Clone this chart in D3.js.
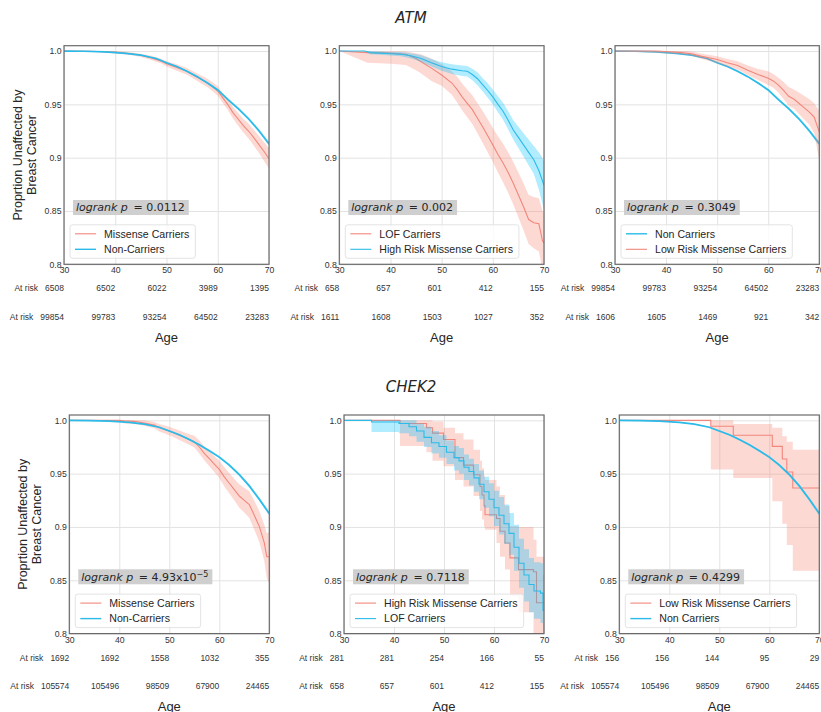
<!DOCTYPE html>
<html>
<head>
<meta charset="utf-8">
<script src="https://cdn.jsdelivr.net/npm/d3@7/dist/d3.min.js"></script>
<style>
  body { margin: 0; background: #fff; }
  svg { display: block; font-family: "Liberation Sans", Arial, sans-serif; }
</style>
</head>
<body>
<script>
// ---- data: each row is [age, survival, lower CI, upper CI] ----
const atmNonCarriers = [
  [30,1,1,1],[34,0.9998,0.9997,0.9999],[38,0.9992,0.999,0.9994],[42,0.9978,0.9975,0.9981],
  [45,0.9962,0.9958,0.9966],[48,0.993,0.9925,0.9935],[50,0.989,0.9884,0.9896],[52,0.9855,0.9848,0.9862],
  [54,0.981,0.9802,0.9818],[56,0.976,0.9751,0.9769],[58,0.970,0.969,0.971],[60,0.9635,0.9624,0.9646],
  [62,0.9545,0.9533,0.9557],[64,0.946,0.9447,0.9473],[66,0.9365,0.935,0.938],[68,0.9255,0.9238,0.9272],
  [70,0.913,0.911,0.915]
];
const atmMissense = [
  [30,1,1,1],[35,0.9998,0.9995,1],[40,0.999,0.998,1],[43,0.9975,0.9962,0.9988],[45,0.996,0.9945,0.9975],
  [47,0.9935,0.9915,0.9955],[49,0.9905,0.9882,0.9928],[50,0.988,0.9855,0.9905],[52,0.9845,0.9815,0.9875],
  [54,0.981,0.9778,0.9842],[56,0.9755,0.972,0.979],[58,0.970,0.966,0.974],[59,0.9665,0.9623,0.9707],
  [60,0.9625,0.958,0.967],[61,0.956,0.9513,0.9607],[62,0.9495,0.9445,0.9545],[63,0.942,0.9365,0.9475],
  [64,0.936,0.930,0.942],[65,0.930,0.9237,0.9363],[66,0.925,0.918,0.932],[67,0.919,0.9115,0.9265],
  [68,0.9125,0.9045,0.9205],[69,0.906,0.897,0.915],[70,0.899,0.8895,0.9085]
];
const atmLof = [
  [30,1,1,1],[35.5,0.9985,0.989,0.9998],[40,0.998,0.988,0.9998],[43,0.997,0.987,0.9995],
  [45,0.993,0.982,0.998],[46,0.990,0.979,0.997],[48,0.984,0.972,0.993],[50,0.9775,0.9675,0.9875],
  [52,0.970,0.959,0.981],[53,0.964,0.952,0.976],[54,0.957,0.9445,0.9695],[55,0.951,0.938,0.964],
  [56,0.945,0.9315,0.9585],[57,0.937,0.923,0.951],[58,0.929,0.914,0.944],[59,0.9205,0.905,0.936],
  [60,0.912,0.896,0.928],[61,0.903,0.886,0.920],[62,0.895,0.877,0.913],[63,0.886,0.867,0.905],
  [64,0.876,0.856,0.896],[65,0.865,0.844,0.886],[66,0.854,0.832,0.876],[67,0.842,0.819,0.865],
  [68,0.839,0.815,0.863],[69,0.838,0.812,0.862],[69.7,0.822,0.795,0.85],[70,0.82,0.79,0.848]
];
const atmHighRisk = [
  [30,1,1,1],[35,1,1,1],[36,0.9985,0.997,1],[38,0.998,0.9965,0.9995],[40,0.9975,0.9958,0.9992],
  [42,0.997,0.995,0.999],[44,0.9955,0.993,0.998],[46,0.993,0.990,0.996],[48,0.989,0.9855,0.9925],
  [50,0.9855,0.9815,0.9895],[52,0.983,0.9785,0.9875],[54,0.9815,0.9765,0.9865],[55,0.981,0.976,0.986],
  [56,0.978,0.9725,0.9835],[57,0.974,0.968,0.980],[58,0.9685,0.9622,0.9748],[59,0.963,0.9563,0.9697],
  [60,0.957,0.950,0.964],[61,0.950,0.9425,0.9575],[62,0.9435,0.9355,0.9515],[63,0.935,0.9265,0.9435],
  [64,0.926,0.917,0.935],[65,0.919,0.909,0.929],[66,0.912,0.901,0.923],[67,0.905,0.893,0.917],
  [68,0.898,0.885,0.911],[69,0.888,0.870,0.905],[70,0.874,0.851,0.897]
];
const atmLowRisk = [
  [30,1,1,1],[38,1,0.9985,1],[40,0.9995,0.998,1],[43,0.9985,0.997,1],[45,0.9975,0.9955,0.9995],
  [47,0.995,0.9925,0.9975],[50,0.992,0.9888,0.9952],[52,0.989,0.9855,0.9925],[54,0.9865,0.9825,0.9905],
  [56,0.982,0.9775,0.9865],[58,0.978,0.9728,0.9832],[60,0.9745,0.968,0.981],[61,0.972,0.9655,0.9785],
  [62,0.968,0.961,0.975],[63,0.963,0.955,0.971],[64,0.9575,0.9487,0.9663],[65,0.955,0.946,0.964],
  [66,0.951,0.941,0.961],[67,0.947,0.936,0.958],[68,0.943,0.931,0.955],[69,0.938,0.923,0.951],
  [70,0.924,0.897,0.944]
];
const chekNonCarriers = [
  [30,1,1,1],[34,0.9998,0.9997,0.9999],[38,0.9993,0.9991,0.9995],[42,0.998,0.9977,0.9983],
  [45,0.9965,0.9961,0.9969],[48,0.9935,0.993,0.994],[50,0.990,0.9894,0.9906],[52,0.9865,0.9858,0.9872],
  [54,0.982,0.9812,0.9828],[56,0.977,0.9761,0.9779],[58,0.9715,0.9705,0.9725],[60,0.9655,0.9644,0.9666],
  [62,0.958,0.9568,0.9592],[64,0.949,0.9477,0.9503],[66,0.9385,0.937,0.94],[68,0.926,0.9243,0.9277],
  [70,0.9125,0.9105,0.9145]
];
const chekMissense = [
  [30,1,1,1],[40,1,1,1],[41,0.9995,0.997,1],[43,0.999,0.9965,1],[45,0.9975,0.995,1],
  [47,0.9955,0.9925,0.9985],[48,0.993,0.9895,0.9965],[50,0.990,0.986,0.994],[52,0.986,0.9815,0.9905],
  [54,0.982,0.977,0.987],[55,0.980,0.9745,0.9855],[56,0.975,0.969,0.981],[57,0.969,0.9625,0.9755],
  [58,0.964,0.957,0.971],[59,0.959,0.9515,0.9665],[60,0.954,0.946,0.962],[61,0.947,0.938,0.956],
  [62,0.941,0.9315,0.9505],[63,0.935,0.925,0.945],[64,0.929,0.918,0.940],[65,0.925,0.9135,0.9365],
  [66,0.921,0.9085,0.9335],[67,0.911,0.8975,0.9245],[68,0.9005,0.886,0.915],[69,0.885,0.868,0.902],
  [69.5,0.872,0.852,0.894],[70,0.872,0.847,0.895]
];
const chekHighRisk = [
  [30,1,1,1],[41.2,0.997,0.976,1],[46.5,0.993,0.970,1],[47.7,0.988,0.962,0.999],[49.9,0.982,0.957,0.993],
  [52.2,0.965,0.944,0.988],[53.9,0.958,0.938,0.982],[55.9,0.949,0.929,0.9725],[57.2,0.938,0.915,0.962],
  [57.6,0.930,0.907,0.955],[58,0.920,0.900,0.948],[58.2,0.9115,0.8975,0.944],[60.5,0.908,0.885,0.938],
  [61.2,0.896,0.872,0.930],[62.2,0.885,0.860,0.920],[63.2,0.871,0.835,0.9006],[64.9,0.860,0.820,0.900],
  [67.9,0.858,0.800,0.888],[68.5,0.829,0.780,0.872],[70,0.829,0.780,0.872]
];
const chekLof = [
  [30,1,1,1],[35.5,0.9985,0.989,1],[41,0.997,0.988,1],[43,0.994,0.985,1],[44.5,0.990,0.980,0.997],
  [46,0.984,0.975,0.994],[47.5,0.979,0.969,0.990],[49,0.9755,0.965,0.986],[50.5,0.970,0.959,0.981],
  [52,0.965,0.953,0.976],[53,0.962,0.950,0.974],[54,0.956,0.944,0.968],[55,0.952,0.939,0.964],
  [56,0.946,0.933,0.959],[57,0.940,0.926,0.953],[58,0.933,0.918,0.947],[59,0.926,0.910,0.941],
  [60,0.918,0.901,0.934],[61,0.911,0.893,0.928],[62,0.903,0.884,0.921],[63,0.894,0.874,0.913],
  [64,0.881,0.859,0.902],[65,0.866,0.843,0.889],[66,0.855,0.830,0.879],[67,0.846,0.820,0.871],
  [68,0.840,0.814,0.867],[69.3,0.838,0.810,0.866],[69.8,0.822,0.792,0.855],[70,0.822,0.792,0.855]
];
const chekLowRisk = [
  [30,1,1,1],[48.3,0.9944,0.954,1],[52.8,0.986,0.946,0.9966],[60.6,0.9756,0.924,0.993],
  [62.6,0.9638,0.903,0.985],[63.5,0.9516,0.883,0.980],[64.7,0.9366,0.859,0.9725],[70,0.9366,0.859,0.9725]
];

// numbers at risk at ages 30, 40, 50, 60, 70
const atmMissenseRisk = [6508, 6502, 6022, 3989, 1395];
const atmNonRisk = [99854, 99783, 93254, 64502, 23283];
const atmLofRisk = [658, 657, 601, 412, 155];
const atmHighRiskRisk = [1611, 1608, 1503, 1027, 352];
const atmLowRiskRisk = [1606, 1605, 1469, 921, 342];
const chekMissenseRisk = [1692, 1692, 1558, 1032, 355];
const chekNonRisk = [105574, 105496, 98509, 67900, 24465];
const chekHighRiskRisk = [281, 281, 254, 166, 55];
const chekLofRisk = [658, 657, 601, 412, 155];
const chekLowRiskRisk = [156, 156, 144, 95, 29];

const pValues = ['0.0112', '0.002', '0.3049', '4.93x10', '0.7118', '0.4299'];
const pExponents = [null, null, null, '\u22125', null, null];

const xTicks = [30, 40, 50, 60, 70];
const yTicks = [0.8, 0.85, 0.9, 0.95, 1.0];
const yTickLabels = ['0.8', '0.85', '0.9', '0.95', '1.0'];
const geneTitles = ['ATM', 'CHEK2'];

// ---- styling ----
const RED = '#f2877b', RED_FILL = 'rgba(250,128,114,0.3)';
const BLUE = '#2bbbe9', BLUE_FILL = 'rgba(0,191,255,0.3)';
const TXT = '#262626';
const plotH = 218.6;

const svg = d3.select('body').append('svg')
  .attr('width', 821).attr('height', 712);

svg.selectAll('.gene')
  .data(geneTitles)
  .join('text')
  .attr('x', 411)
  .attr('y', (d, i) => i === 0 ? 18 : 387)
  .attr('dy', '0.35em')
  .attr('text-anchor', 'middle')
  .style('font-family', '"DejaVu Sans", sans-serif')
  .style('font-style', 'italic')
  .style('font-size', '15px')
  .style('fill', TXT)
  .text(d => d);

const panels = [
  { left: 64, top: 45.7, w: 205, ylab: true,
    curves: [{ rows: atmMissense, c: 'r', name: 'Missense Carriers' }, { rows: atmNonCarriers, c: 'b', name: 'Non-Carriers', thick: true }],
    risk: [atmMissenseRisk, atmNonRisk] },
  { left: 339.3, top: 45.7, w: 204.7,
    curves: [{ rows: atmLof, c: 'r', name: 'LOF Carriers' }, { rows: atmHighRisk, c: 'b', name: 'High Risk Missense Carriers' }],
    risk: [atmLofRisk, atmHighRiskRisk] },
  { left: 615, top: 45.7, w: 204.3,
    curves: [{ rows: atmNonCarriers, c: 'b', name: 'Non Carriers', thick: true }, { rows: atmLowRisk, c: 'r', name: 'Low Risk Missense Carriers' }],
    risk: [atmNonRisk, atmLowRiskRisk] },
  { left: 69.3, top: 415, w: 200, ylab: true,
    curves: [{ rows: chekMissense, c: 'r', name: 'Missense Carriers' }, { rows: chekNonCarriers, c: 'b', name: 'Non-Carriers', thick: true }],
    risk: [chekMissenseRisk, chekNonRisk] },
  { left: 344, top: 415, w: 200,
    curves: [{ rows: chekHighRisk, c: 'r', name: 'High Risk Missense Carriers', step: true }, { rows: chekLof, c: 'b', name: 'LOF Carriers', step: true }],
    risk: [chekHighRiskRisk, chekLofRisk] },
  { left: 619.3, top: 415, w: 200,
    curves: [{ rows: chekLowRisk, c: 'r', name: 'Low Risk Missense Carriers', step: true }, { rows: chekNonCarriers, c: 'b', name: 'Non Carriers', thick: true }],
    risk: [chekLowRiskRisk, chekNonRisk] }
];

panels.forEach((p, pi) => {
  const g = svg.append('g').attr('transform', `translate(${p.left},${p.top})`);
  const x = d3.scaleLinear().domain([30, 70]).range([0, p.w]);
  const y = d3.scaleLinear().domain([0.8, 1.005]).range([plotH, 0]);

  // grid + tick labels
  const gx = g.append('g').attr('transform', `translate(0,${plotH})`)
    .call(d3.axisBottom(x).tickValues(xTicks).tickSize(-plotH).tickPadding(3).tickFormat(d3.format('d')));
  const gy = g.append('g')
    .call(d3.axisLeft(y).tickValues(yTicks).tickSize(-p.w).tickPadding(2.5).tickFormat((d, i) => yTickLabels[i]));
  [gx, gy].forEach(a => {
    a.select('.domain').remove();
    a.selectAll('line').attr('stroke', '#e3e3e3').attr('stroke-width', 1);
    a.selectAll('text').style('font-size', '8.7px').attr('fill', '#333');
  });

  const clipId = 'clip' + pi;
  g.append('clipPath').attr('id', clipId)
    .append('rect').attr('width', p.w).attr('height', plotH);
  const plot = g.append('g').attr('clip-path', `url(#${clipId})`);

  p.curves.forEach(cv => {
    const curve = cv.step ? d3.curveStepAfter : d3.curveLinear;
    const area = d3.area().curve(curve)
      .x(d => x(d[0])).y0(d => y(d[2])).y1(d => y(d[3]));
    const line = d3.line().curve(curve)
      .x(d => x(d[0])).y(d => y(d[1]));
    plot.append('path').attr('d', area(cv.rows))
      .attr('fill', cv.c === 'r' ? RED_FILL : BLUE_FILL);
    plot.append('path').attr('d', line(cv.rows))
      .attr('fill', 'none')
      .attr('stroke', cv.c === 'r' ? RED : BLUE)
      .attr('stroke-width', cv.thick ? 1.7 : 1.1);
  });

  // frame
  g.append('rect').attr('width', p.w).attr('height', plotH)
    .attr('fill', 'none').attr('stroke', '#6a6a6a').attr('stroke-width', 1.2);

  // logrank box
  const lb = g.append('g').attr('transform', `translate(9,${plotH - 56.8})`);
  const lbRect = lb.append('rect').attr('y', -7.5).attr('height', 15).attr('fill', '#cfcfcf');
  const lt = lb.append('text').attr('x', 3).attr('dy', '0.35em')
    .style('font-family', '"DejaVu Sans", sans-serif').style('font-size', '11px').attr('fill', TXT);
  lt.append('tspan').style('font-style', 'italic').text('logrank p');
  lt.append('tspan').text(' \u2009= ' + pValues[pi]);
  if (pExponents[pi]) {
    lt.append('tspan').attr('dy', '-0.45em').style('font-size', '8px').text(pExponents[pi]);
  }
  lbRect.attr('width', lt.node().getComputedTextLength() + 7);

  // legend
  const leg = g.append('g').attr('transform', `translate(6,${plotH - 39.5})`);
  const legRect = leg.append('rect').attr('height', 33.5).attr('rx', 2.5)
    .attr('fill', 'rgba(255,255,255,0.8)').attr('stroke', '#dcdcdc').attr('stroke-width', 0.8);
  let maxW = 0;
  p.curves.forEach((cv, i) => {
    const cy = 9 + i * 15.5;
    leg.append('line').attr('x1', 5).attr('x2', 26).attr('y1', cy).attr('y2', cy)
      .attr('stroke', cv.c === 'r' ? RED : BLUE).attr('stroke-width', cv.thick ? 1.4 : 1.1);
    const t = leg.append('text').attr('x', 34).attr('y', cy).attr('dy', '0.35em')
      .style('font-size', '10.6px').attr('fill', TXT).text(cv.name);
    maxW = Math.max(maxW, t.node().getComputedTextLength());
  });
  legRect.attr('width', 34 + maxW + 6);

  // at risk rows
  p.risk.forEach((counts, ri) => {
    const ry = plotH + 24 + ri * 28.5;
    const row = g.append('g').attr('transform', `translate(0,${ry})`);
    const labels = row.selectAll('text').data(counts).join('text')
      .attr('x', (d, i) => x(xTicks[i]))
      .attr('dy', '0.35em')
      .attr('text-anchor', 'end')
      .style('font-size', '8.5px').attr('fill', '#333')
      .text(d => d);
    const firstW = labels.node().getComputedTextLength();
    row.append('text').attr('x', x(xTicks[0]) - firstW - 7).attr('dy', '0.35em')
      .attr('text-anchor', 'end').style('font-size', '8.5px').attr('fill', '#333')
      .text('At risk');
  });

  g.append('text').attr('x', p.w / 2).attr('y', plotH + 73).attr('dy', '0.35em')
    .attr('text-anchor', 'middle').style('font-size', '13px').attr('fill', TXT).text('Age');

  if (p.ylab) {
    const yl = g.append('text').attr('transform', `translate(${-41},${plotH / 2}) rotate(-90)`)
      .attr('text-anchor', 'middle').style('font-size', '12.5px').attr('fill', TXT);
    yl.append('tspan').attr('x', 0).attr('dy', '-0.1em').text('Proprtion Unaffected by');
    yl.append('tspan').attr('x', 0).attr('dy', '1.15em').text('Breast Cancer');
  }
});
</script>
</body>
</html>
